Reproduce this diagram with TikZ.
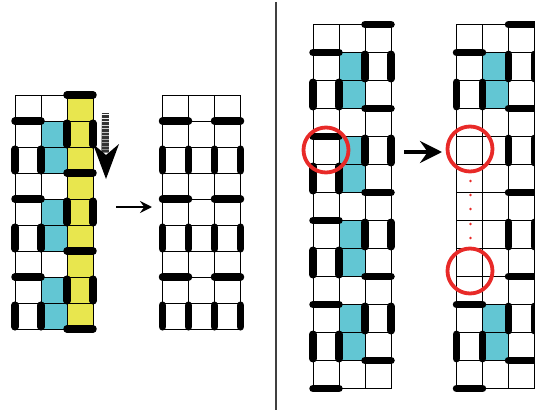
\documentclass[tikz,border=0pt]{standalone}
\usetikzlibrary{arrows.meta}
\definecolor{cyanc}{RGB}{98,198,211}
\definecolor{yel}{RGB}{232,230,78}
\definecolor{redc}{RGB}{232,42,40}
\begin{document}
\begin{tikzpicture}[x=1pt,y=-1pt,
  hbar/.style={line width=7.5pt,line cap=round},
  vbar/.style={line width=7.5pt,line cap=round,shorten <=2.2pt,shorten >=2.2pt},
  vbarr/.style={line width=7.5pt,line cap=round,shorten <=1.8pt,shorten >=1.8pt},
  gridln/.style={line width=0.9pt,black},
  ring/.style={draw=redc,line width=3.8pt},
  reddot/.style={fill=redc},
  blackarrow/.style={-{Stealth[length=#1,width=#1,inset=0.35*#1]}}]
\useasboundingbox (0,0) rectangle (535,412);
\clip (0,0) rectangle (535,412);

% ---------- left grid ----------
\fill[yel] (67,95) rectangle (93,329);
\foreach \r in {2,3,5,6,8,9} \fill[cyanc] (41,{95+26*(\r-1)}) rectangle (67,{95+26*\r});
\foreach \i in {0,...,3} \draw[gridln] ({15+26*\i},95) -- ({15+26*\i},329);
\foreach \k in {0,...,9} \draw[gridln] (15,{95+26*\k}) -- (93,{95+26*\k});
\foreach \p in {0,1,2} {
  \draw[hbar] (67,{95+78*\p}) -- (93,{95+78*\p});
  \draw[hbar] (15,{121+78*\p}) -- (41,{121+78*\p});
  \draw[vbar] (67,{121+78*\p}) -- (67,{147+78*\p});
  \draw[vbar] (93,{121+78*\p}) -- (93,{147+78*\p});
  \draw[vbar] (15,{147+78*\p}) -- (15,{173+78*\p});
  \draw[vbar] (41,{147+78*\p}) -- (41,{173+78*\p});
}
\draw[hbar] (67,329) -- (93,329);

% gray sliding arrow
\shade[top color=white,bottom color=black!50] (101.5,113) rectangle (108.5,152);
\foreach \i in {0,...,27} \draw[black!80,line width=0.55pt] (101.5,{113.5+1.4*\i}) -- (108.5,{113.5+1.4*\i});
\fill[black] (93,144) -- (106,155) -- (119,144) -- (106,179) -- cycle;

% arrow left -> middle
\coordinate (a1s) at (116,207);
\coordinate (a1e) at (152,207);
\draw[line width=2.2pt,blackarrow=12pt] (a1s) -- (a1e);

% ---------- middle grid ----------
\foreach \i in {0,...,3} \draw[gridln] ({162.5+26*\i},95) -- ({162.5+26*\i},329);
\foreach \k in {0,...,9} \draw[gridln] (162.5,{95+26*\k}) -- (240.5,{95+26*\k});
\foreach \p in {0,1,2} {
  \draw[hbar] (162.5,{121+78*\p}) -- (188.5,{121+78*\p});
  \draw[hbar] (214.5,{121+78*\p}) -- (240.5,{121+78*\p});
  \foreach \i in {0,...,3}
    \draw[vbar] ({162.5+26*\i},{147+78*\p}) -- ({162.5+26*\i},{173+78*\p});
}

% divider
\coordinate (dv1) at (276,2);
\coordinate (dv2) at (276,410);
\draw[line width=1.2pt,black!75] (dv1) -- (dv2);

% ---------- right grid 1 ----------
\foreach \r in {2,3,5,6,8,9,11,12} \fill[cyanc] (339,{24.5+28*(\r-1)}) rectangle (365,{24.5+28*\r});
\foreach \i in {0,...,3} \draw[gridln] ({313+26*\i},24.5) -- ({313+26*\i},388.5);
\foreach \k in {0,...,13} \draw[gridln] (313,{24.5+28*\k}) -- (391,{24.5+28*\k});
\foreach \p in {0,1,2,3} {
  \draw[hbar] (365,{24.5+84*\p}) -- (391,{24.5+84*\p});
  \draw[hbar] (313,{52.5+84*\p}) -- (339,{52.5+84*\p});
  \draw[vbarr] (365,{52.5+84*\p}) -- (365,{80.5+84*\p});
  \draw[vbarr] (391,{52.5+84*\p}) -- (391,{80.5+84*\p});
  \draw[vbarr] (313,{80.5+84*\p}) -- (313,{108.5+84*\p});
  \draw[vbarr] (339,{80.5+84*\p}) -- (339,{108.5+84*\p});
}
\draw[hbar] (365,360.5) -- (391,360.5);
\draw[hbar] (313,388.5) -- (339,388.5);
\draw[ring] (326,150) circle (22.5);

% arrow grid1 -> grid2
\coordinate (a2s) at (404,152);
\coordinate (a2e) at (442,152);
\draw[line width=3.5pt,blackarrow=22pt] (a2s) -- (a2e);

% ---------- right grid 2 ----------
\foreach \r in {2,3,11,12} \fill[cyanc] (482.5,{24.5+28*(\r-1)}) rectangle (508.5,{24.5+28*\r});
\foreach \i in {0,...,3} \draw[gridln] ({456.5+26*\i},24.5) -- ({456.5+26*\i},388.5);
\foreach \k in {0,...,13} \draw[gridln] (456.5,{24.5+28*\k}) -- (534.5,{24.5+28*\k});
\foreach \p in {0,1,2,3} {
  \draw[hbar] (508.5,{24.5+84*\p}) -- (534.5,{24.5+84*\p});
  \draw[vbarr] (508.5,{52.5+84*\p}) -- (508.5,{80.5+84*\p});
  \draw[vbarr] (534.5,{52.5+84*\p}) -- (534.5,{80.5+84*\p});
}
\foreach \p in {0,3} {
  \draw[hbar] (456.5,{52.5+84*\p}) -- (482.5,{52.5+84*\p});
  \draw[vbarr] (456.5,{80.5+84*\p}) -- (456.5,{108.5+84*\p});
  \draw[vbarr] (482.5,{80.5+84*\p}) -- (482.5,{108.5+84*\p});
}
\draw[hbar] (508.5,360.5) -- (534.5,360.5);
\draw[hbar] (456.5,388.5) -- (482.5,388.5);
\draw[ring] (470,149) circle (22.5);
\draw[ring] (470,271) circle (22.5);
\foreach \y in {181,195,209,224,238} \fill[reddot] (470.5,\y) circle (1.3);
\end{tikzpicture}
\end{document}
